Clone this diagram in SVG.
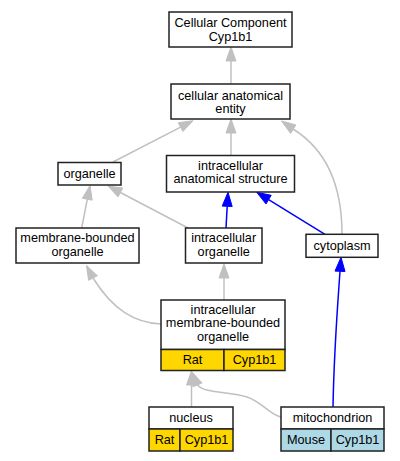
<svg xmlns="http://www.w3.org/2000/svg" width="400" height="461" viewBox="0 0 400 461">
<style>
.n{fill:#fff;stroke:#222;stroke-width:1.5}
.g{fill:#ffd700;stroke:#222;stroke-width:1.5}
.b{fill:#add8e6;stroke:#222;stroke-width:1.5}
text{font-family:"Liberation Sans",Arial,sans-serif;font-size:12.7px;fill:#000;text-anchor:middle}
.eg{fill:none;stroke:#c0c0c0;stroke-width:1.5}
.eb{fill:none;stroke:#0000ff;stroke-width:1.5}
.ag{fill:#c0c0c0;stroke:#c0c0c0}
.ab{fill:#0000ff;stroke:#0000ff}
</style>
<rect width="400" height="461" fill="#fff"/>
<g id="edges">
<path class="eg" d="M231,84 L231,61"/><polygon class="ag" points="231,47 226,61 236,61"/>
<path class="eg" d="M231,156 L231,133"/><polygon class="ag" points="231,119 226,133 236,133"/>
<path class="eg" d="M113,162 L180.6,127.1"/><polygon class="ag" points="193,120.7 182.9,131.5 178.3,122.7"/>
<path class="eg" d="M342,234 C342,190 330,152 293,129"/><polygon class="ag" points="281.5,121 295.9,124.9 290.6,133.4"/>
<path class="eg" d="M81.7,228 L87.3,199.2"/><polygon class="ag" points="90,185.5 92.2,200.2 82.4,198.2"/>
<path class="eg" d="M188,228 L120.4,192.5"/><polygon class="ag" points="108,186 122.7,188.1 118.1,196.9"/>
<path class="eb" d="M226,228 L227.2,206.3"/><polygon class="ab" points="228,192.3 232.2,206.5 222.2,206.1"/>
<path class="eb" d="M325,234.3 L268.6,199.6"/><polygon class="ab" points="256.7,192.3 271.2,195.3 266,203.9"/>
<path class="eb" d="M333,407 C334,350 338,300 340,271.3"/><polygon class="ab" points="341,257.3 345,271.5 335,271.1"/>
<path class="eg" d="M161,324 C135,323 113,310 93,278"/><polygon class="ag" points="86.5,265.5 97.4,275.7 88.6,280.3"/>
<path class="eg" d="M224,300 L224,278"/><polygon class="ag" points="224,264 219,278 229,278"/>
<path class="eg" d="M191.5,407 L191.5,385"/><polygon class="ag" points="191.5,371 186.5,385 196.5,385"/>
<path class="eg" d="M281,417 C270,415 262,402 247,397 C230,391 205,394 197.5,384.9"/><polygon class="ag" points="192,372 202.1,383 192.9,386.8"/>
</g>
<g id="cc">
<rect class="n" x="169" y="12" width="123" height="35"/>
<text x="230.5" y="27">Cellular Component</text><text x="230.5" y="40.5">Cyp1b1</text>
</g>
<g id="cae">
<rect class="n" x="171" y="84" width="119" height="35"/>
<text x="230.5" y="99.5">cellular anatomical</text><text x="230.5" y="113">entity</text>
</g>
<g id="organelle">
<rect class="n" x="58" y="162.5" width="63" height="22.5"/>
<text x="89.5" y="177.5">organelle</text>
</g>
<g id="ias">
<rect class="n" x="166.5" y="155.5" width="128" height="36.5"/>
<text x="230.5" y="169.5">intracellular</text><text x="230.5" y="183">anatomical structure</text>
</g>
<g id="mbo">
<rect class="n" x="16" y="228" width="123" height="35"/>
<text x="77.5" y="242">membrane-bounded</text><text x="77.5" y="255.5">organelle</text>
</g>
<g id="io">
<rect class="n" x="185.5" y="228" width="76.5" height="35"/>
<text x="223.7" y="242">intracellular</text><text x="223.7" y="255.5">organelle</text>
</g>
<g id="cytoplasm">
<rect class="n" x="306" y="234.3" width="72" height="23"/>
<text x="342" y="249.5">cytoplasm</text>
</g>
<g id="imbo">
<rect class="n" x="161" y="300" width="124" height="49.5"/>
<rect class="g" x="161" y="349.5" width="63" height="21"/>
<rect class="g" x="224" y="349.5" width="61" height="21"/>
<text x="223" y="314">intracellular</text><text x="223" y="327">membrane-bounded</text><text x="223" y="340.5">organelle</text>
<text x="192.5" y="364">Rat</text><text x="254.5" y="364">Cyp1b1</text>
</g>
<g id="nucleus">
<rect class="n" x="149" y="407" width="84" height="22"/>
<rect class="g" x="149" y="429" width="31" height="22"/>
<rect class="g" x="180" y="429" width="53" height="22"/>
<text x="191" y="421.5">nucleus</text>
<text x="164.5" y="443.5">Rat</text><text x="206.5" y="443.5">Cyp1b1</text>
</g>
<g id="mitochondrion">
<rect class="n" x="281" y="407" width="103" height="22"/>
<rect class="b" x="281" y="429" width="50" height="22"/>
<rect class="b" x="331" y="429" width="53" height="22"/>
<text x="332.5" y="421.5">mitochondrion</text>
<text x="306" y="443.5">Mouse</text><text x="357.5" y="443.5">Cyp1b1</text>
</g>
</svg>
